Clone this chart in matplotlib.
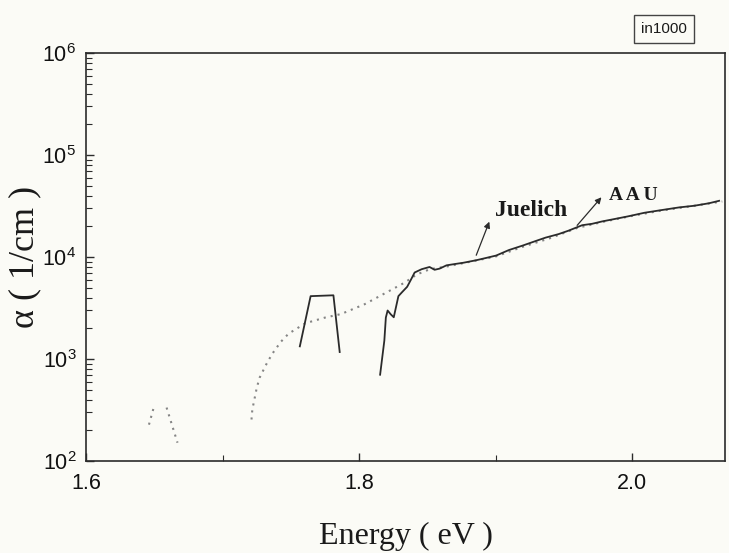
import matplotlib
matplotlib.use("Agg")
import matplotlib.pyplot as plt
import numpy as np
from matplotlib.ticker import LogLocator, FixedLocator, FuncFormatter, NullFormatter

# dotted curve (Juelich), None splits the small bump from the main curve
juelich_e = [1.6461, 1.650, None, 1.659, 1.667, None,
             1.7212, 1.7218, 1.7251, 1.7272, 1.732, 1.7362, 1.7426, 1.7483,
             1.7606, 1.775, 1.7867, 1.804, 1.8185, 1.833, 1.8423, 1.852,
             1.865, 1.88, 1.90, 1.92, 1.94, 1.96, 1.98, 2.00, 2.02, 2.04, 2.066]
juelich_a = [227, 350, None, 334, 151, None,
             255, 319, 525, 658, 885, 1114, 1469, 1768,
             2240, 2545, 2755, 3440, 4375, 5570, 6740, 7600,
             8100, 8900, 10100, 12600, 15300, 19300, 22300, 25300, 28300, 31000, 35000]

# solid curve (AAU): short plateau piece, then the main edge
aau_e = [1.7566, 1.7645, 1.7812, 1.7858, None,
         1.8154, 1.8185, 1.8196, 1.8209, 1.8232, 1.8254, 1.8288, 1.8316,
         1.8352, 1.838, 1.8407, 1.8458, 1.8516, 1.8553, 1.859, 1.864,
         1.8699, 1.8764, 1.8858, 1.8931, 1.9004, 1.9097, 1.9199, 1.9293,
         1.9366, 1.946, 1.9532, 1.9634, 1.9707, 1.9779, 1.9874, 1.9968,
         2.0091, 2.0215, 2.0346, 2.0455, 2.0564, 2.0637]
aau_a = [1330, 4130, 4210, 1170, None,
         701, 1515, 2548, 2987, 2740, 2564, 4132, 4538,
         5100, 5998, 7046, 7586, 7980, 7490, 7690, 8280,
         8520, 8780, 9290, 9790, 10330, 11690, 12950, 14330,
         15480, 16740, 18070, 20490, 21150, 22300, 23600, 24990,
         27150, 28820, 30650, 31780, 33650, 35550]

x_ticks = [1.6, 1.8, 2.0]
x_minor = [1.7, 1.9]


def to_arr(v):
    return np.array([np.nan if x is None else x for x in v], dtype=float)


bg = "#fbfbf6"
ink = "#2b2b2b"

fig = plt.figure(figsize=(7.29, 5.53), dpi=100, facecolor=bg)
ax = fig.add_axes([0.118, 0.1664, 0.8765, 0.7378], facecolor=bg)

ax.plot(to_arr(juelich_e), to_arr(juelich_a), color="#858585", lw=1.5,
        linestyle=(0, (1, 2.4)))
ax.plot(to_arr(aau_e), to_arr(aau_a), color=ink, lw=1.3)

ax.set_yscale("log")
ax.set_xlim(1.6, 2.068)
ax.set_ylim(1e2, 1e6)

ax.xaxis.set_major_locator(FixedLocator(x_ticks))
ax.xaxis.set_minor_locator(FixedLocator(x_minor))
ax.xaxis.set_major_formatter(FuncFormatter(lambda v, p: "%.1f" % v))
ax.yaxis.set_major_locator(LogLocator(base=10, numticks=10))
ax.yaxis.set_minor_locator(LogLocator(base=10, subs=np.arange(2, 10), numticks=10))
ax.yaxis.set_minor_formatter(NullFormatter())
ax.yaxis.set_major_formatter(
    FuncFormatter(lambda v, p: r"$\mathregular{10^{%d}}$" % round(np.log10(v))))

ax.tick_params(which="both", direction="in", top=False, right=False, color=ink)
ax.tick_params(which="major", length=6, width=1.0)
ax.tick_params(which="minor", length=4, width=0.8)
ax.tick_params(axis="x", pad=9)
ax.tick_params(axis="y", pad=7)
for lab in ax.get_xticklabels() + ax.get_yticklabels():
    lab.set_fontfamily("Liberation Sans")
    lab.set_fontsize(15.5)
    lab.set_color("#111111")

for s in ax.spines.values():
    s.set_color(ink)
    s.set_linewidth(1.2)

ax.set_xlabel("Energy ( eV )", fontfamily="Liberation Serif", fontsize=23,
              color="#1a1a1a", labelpad=20)
ax.set_ylabel("\u03b1 ( 1/cm )", fontfamily="Liberation Serif", fontsize=26,
              color="#1a1a1a", labelpad=1)

# labels with short arrows
arrow = dict(arrowstyle="-|>", color=ink, lw=0.9, mutation_scale=9,
             shrinkA=0, shrinkB=0)
ax.annotate("", xy=(1.8954, 22200), xytext=(1.8858, 10400), arrowprops=arrow)
ax.annotate("", xy=(1.9775, 38500), xytext=(1.9597, 20400), arrowprops=arrow)
ax.text(1.8996, 28860, "Juelich", fontfamily="Liberation Serif", fontweight="bold",
        fontsize=17, color="#1a1a1a", ha="left", va="center")
ax.text(1.9834, 39700, "A A U", fontfamily="Liberation Serif", fontweight="bold",
        fontsize=14, color="#1a1a1a", ha="left", va="center")

fig.text(664 / 729, 1 - 29 / 553, "in1000", fontfamily="Liberation Sans",
         fontsize=11, color="#1a1a1a", ha="center", va="center",
         bbox=dict(boxstyle="square,pad=0.45", fc=bg, ec="#444444", lw=1.0))

fig.savefig("out.png", dpi=100, facecolor=bg)
